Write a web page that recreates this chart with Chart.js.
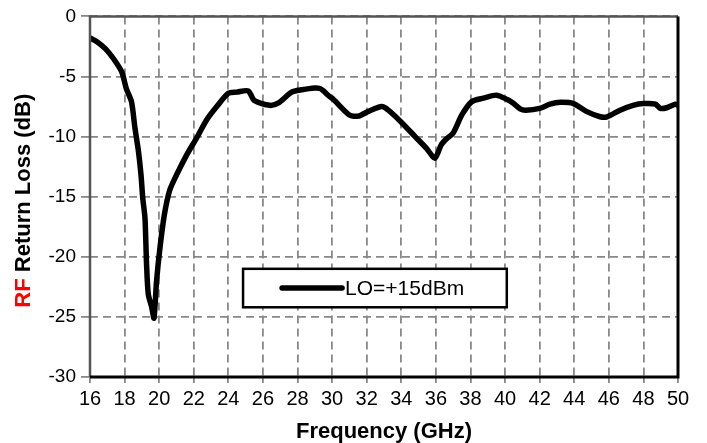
<!DOCTYPE html>
<html><head><meta charset="utf-8">
<script src="https://cdn.jsdelivr.net/npm/chart.js@4/dist/chart.umd.min.js"></script>
<style>html,body{margin:0;padding:0;background:#fff}#wrap{width:707px;height:443px}</style>
</head><body><div id="wrap"><canvas id="c" width="707" height="443"></canvas></div>
<script>
const freqGHz = [16.0,16.4,16.9,17.35,17.83,18.1,18.4,18.6,18.8,18.95,19.05,19.18,19.27,19.37,19.57,19.7,19.85,20.05,20.3,20.6,21.0,21.6,22.17,22.75,23.33,24.0,24.5,25.15,25.5,26.4,26.9,27.66,28.25,29.0,29.3,29.5,29.8,30.07,31.0,31.5,32.1,32.87,33.25,34.0,34.8,35.47,35.95,36.3,36.6,37.0,37.5,38.07,38.75,39.5,40.1,40.5,40.87,41.2,42.0,42.6,43.2,43.95,44.7,45.5,45.9,46.65,47.4,48.0,48.7,48.97,49.35,49.85,50.0];
const returnLossDb = [-1.8,-2.1,-2.7,-3.5,-4.6,-6.0,-7.1,-9.3,-11.2,-13.2,-15.1,-16.8,-20.6,-23.1,-24.2,-25.1,-22.0,-19.2,-16.5,-14.5,-13.2,-11.5,-10.1,-8.6,-7.5,-6.4,-6.3,-6.2,-7.0,-7.4,-7.2,-6.3,-6.1,-5.95,-6.0,-6.2,-6.6,-6.9,-8.2,-8.3,-7.9,-7.5,-7.8,-8.8,-10.0,-11.0,-11.8,-10.7,-10.2,-9.7,-8.2,-7.1,-6.8,-6.55,-6.9,-7.25,-7.7,-7.8,-7.65,-7.3,-7.15,-7.25,-7.9,-8.35,-8.35,-7.8,-7.4,-7.25,-7.3,-7.65,-7.6,-7.3,-7.4];
const xTicks = [16,18,20,22,24,26,28,30,32,34,36,38,40,42,44,46,48,50];
const yTicks = [0,-5,-10,-15,-20,-25,-30];
const seriesLabel = 'LO=+15dBm';
const xTitle = 'Frequency (GHz)';
const yTitleRed = 'RF';
const yTitleRest = ' Return Loss (dB)';

const points = freqGHz.map((f,i)=>({x:f,y:returnLossDb[i]}));

const decor = {
  id:'decor',
  afterDraw(chart){
    const {ctx, chartArea:a} = chart;
    ctx.save();
    ctx.strokeStyle = '#555'; ctx.lineWidth = 2.5;
    ctx.beginPath(); ctx.moveTo(a.left, a.bottom); ctx.lineTo(a.left, a.top); ctx.lineTo(a.right, a.top); ctx.stroke();
    ctx.strokeStyle = '#000'; ctx.lineWidth = 3;
    ctx.beginPath(); ctx.moveTo(a.left, a.bottom); ctx.lineTo(a.right, a.bottom); ctx.lineTo(a.right, a.top); ctx.stroke();
    const xs = chart.scales.x, ys = chart.scales.y;
    const bx0 = xs.getPixelForValue(24.85), bx1 = xs.getPixelForValue(40.1);
    const by0 = ys.getPixelForValue(-21.0), by1 = ys.getPixelForValue(-24.2);
    ctx.fillStyle = '#fff'; ctx.fillRect(bx0, by0, bx1-bx0, by1-by0);
    ctx.strokeStyle = '#000'; ctx.lineWidth = 2.5;
    ctx.strokeRect(bx0, by0, bx1-bx0, by1-by0);
    const ly = (by0+by1)/2;
    ctx.lineWidth = 5.5; ctx.lineCap = 'round';
    ctx.beginPath(); ctx.moveTo(bx0+39, ly); ctx.lineTo(bx0+99, ly); ctx.stroke();
    ctx.fillStyle = '#000'; ctx.font = '21px "Liberation Sans", Arial, sans-serif';
    ctx.textBaseline = 'middle'; ctx.textAlign = 'left';
    ctx.fillText(seriesLabel, bx0+102, ly+1);
    ctx.font = 'bold 22px "Liberation Sans", Arial, sans-serif';
    ctx.textAlign = 'center'; ctx.textBaseline = 'middle';
    ctx.fillText(xTitle, (a.left+a.right)/2, 432);
    ctx.translate(24, (a.top+a.bottom)/2 + 4);
    ctx.rotate(-Math.PI/2);
    const w1 = ctx.measureText(yTitleRed).width, w2 = ctx.measureText(yTitleRest).width;
    const start = -(w1+w2)/2;
    ctx.textAlign = 'left';
    ctx.fillStyle = '#ff0000'; ctx.fillText(yTitleRed, start, 0);
    ctx.fillStyle = '#000'; ctx.fillText(yTitleRest, start+w1, 0);
    ctx.restore();
  }
};

new Chart(document.getElementById('c'), {
  type:'line',
  data:{datasets:[{label:seriesLabel, data:points, borderColor:'#000', borderWidth:5.5, pointRadius:0, tension:0.25, fill:false, borderJoinStyle:'round', borderCapStyle:'round'}]},
  options:{
    responsive:false, animation:false,
    layout:{padding:{left:0, top:14, right:29, bottom:0}},
    plugins:{legend:{display:false}, tooltip:{enabled:false}},
    scales:{
      x:{type:'linear', min:16, max:50,
        afterBuildTicks(s){ s.ticks = xTicks.map(v=>({value:v})); },
        afterFit(s){ s.height = 66; },
        grid:{color:'#888', lineWidth:1.8, tickLength:6, tickColor:'#888', tickBorderDash:[0,0]},
        border:{display:false, dash:[8,5]},
        ticks:{color:'#000', font:{family:'"Liberation Sans", Arial, sans-serif', size:20}, padding:4, maxRotation:0, autoSkip:false}
      },
      y:{type:'linear', min:-30, max:0,
        afterBuildTicks(s){ s.ticks = yTicks.map(v=>({value:v})); },
        afterFit(s){ s.width = 90; },
        grid:{color:'#888', lineWidth:1.8, tickLength:9, tickColor:'#888', tickBorderDash:[0,0]},
        border:{display:false, dash:[8,5]},
        ticks:{color:'#000', font:{family:'"Liberation Sans", Arial, sans-serif', size:19}, padding:5, autoSkip:false}
      }
    }
  },
  plugins:[decor]
});
</script></body></html>
